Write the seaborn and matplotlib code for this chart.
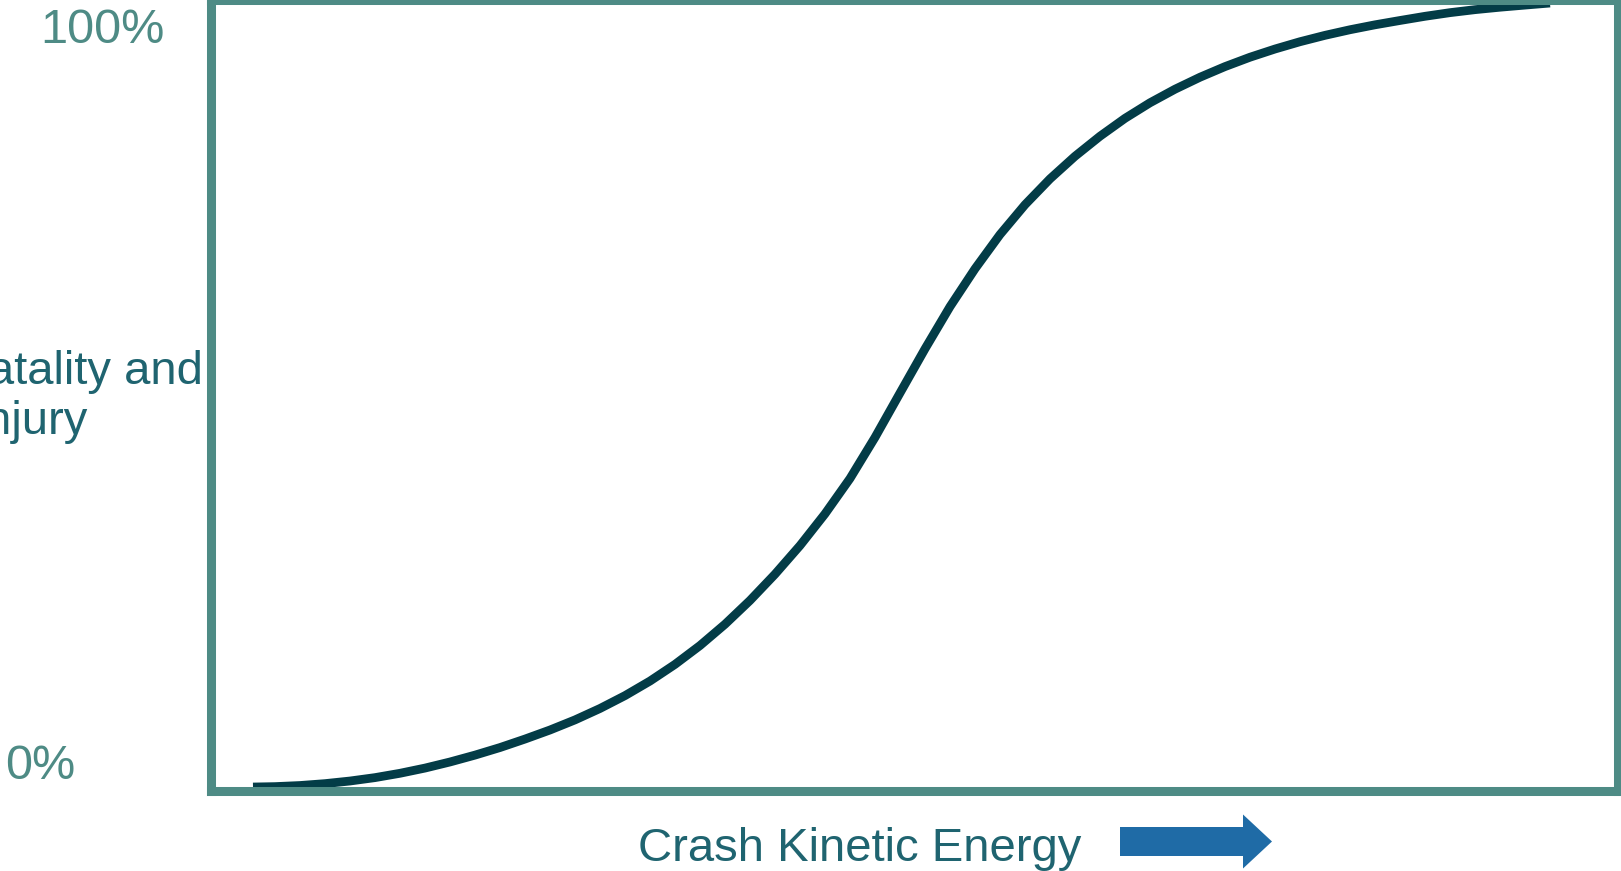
import matplotlib
matplotlib.use("Agg")
import matplotlib.pyplot as plt
from matplotlib.patches import FancyArrow
import pandas as pd
import seaborn as sns

# curve: energy (0-100 across the box), risk in %
energy = [3.02, 4.58, 6.36, 8.14, 9.91, 11.69, 13.47, 15.25, 17.02, 18.80,
          20.58, 22.35, 24.13, 25.91, 27.68, 29.46, 31.24, 33.01, 34.79, 36.57,
          38.34, 40.12, 41.90, 43.67, 45.45, 47.23, 49.00, 50.78, 52.56, 54.34,
          56.11, 57.89, 59.67, 61.44, 63.22, 65.00, 66.77, 68.55, 70.33, 72.10,
          73.88, 75.66, 77.43, 79.21, 80.99, 82.76, 84.54, 86.32, 88.09, 89.87,
          91.65, 93.43, 95.20]
risk = [0.44, 0.49, 0.63, 0.87, 1.20, 1.63, 2.18, 2.84, 3.61, 4.48,
        5.44, 6.51, 7.66, 8.94, 10.38, 12.01, 13.86, 15.96, 18.35, 21.05,
        24.05, 27.38, 31.01, 35.01, 39.49, 44.70, 50.30, 55.90, 61.25, 66.05,
        70.37, 74.15, 77.43, 80.28, 82.82, 85.09, 87.05, 88.77, 90.29, 91.63,
        92.82, 93.86, 94.78, 95.59, 96.30, 96.92, 97.47, 98.00, 98.46, 98.84,
        99.15, 99.42, 99.68]
y_labels = ["0%", "100%"]

BORDER = "#4e8b85"
CURVE = "#033c47"
TEXT = "#1f6470"
ARROW = "#1f6ba6"

W, H = 1621, 871

sns.set_style("white")
plt.rcParams["font.family"] = ["Liberation Sans", "DejaVu Sans"]

df = pd.DataFrame({"energy": energy, "risk": risk})

fig = plt.figure(figsize=(W / 100, H / 100), dpi=100)
ax = fig.add_axes([210.5 / W, 1 - 790.5 / H, 1407 / W, 790 / H])

sns.lineplot(data=df, x="energy", y="risk", ax=ax, color=CURVE,
             linewidth=6.3, solid_capstyle="butt", solid_joinstyle="round",
             sort=False)

ax.set_xlim(0, 100)
ax.set_ylim(0, 100)
ax.set_xticks([])
ax.set_yticks([])
ax.set_xlabel("")
ax.set_ylabel("")
for sp in ax.spines.values():
    sp.set_visible(True)
    sp.set_color(BORDER)
    sp.set_linewidth(6.5)

# percent labels at the ends of the y axis
fig.text(102 / W, 1 - 43 / H, y_labels[1], ha="center", va="baseline",
         fontsize=35, color=BORDER)
fig.text(40 / W, 1 - 779 / H, y_labels[0], ha="center", va="baseline",
         fontsize=35, color=BORDER)

# y title, partly cut off at the left edge like the original
fig.text(203 / W, 1 - 384 / H, "Fatality and", ha="right", va="baseline",
         fontsize=34, color=TEXT)
fig.text(88 / W, 1 - 434 / H, "Injury", ha="right", va="baseline",
         fontsize=34, color=TEXT)

fig.text(860 / W, 1 - 861 / H, "Crash Kinetic Energy", ha="center",
         va="baseline", fontsize=34, color=TEXT)

# arrow next to the x label
arrow = FancyArrow(1120 / W, 1 - 841.5 / H, 152 / W, 0, width=29 / H,
                   head_width=54 / H, head_length=29 / W,
                   length_includes_head=True, color=ARROW, lw=0,
                   transform=fig.transFigure)
fig.add_artist(arrow)

fig.savefig("out.png", dpi=100, facecolor="white")
